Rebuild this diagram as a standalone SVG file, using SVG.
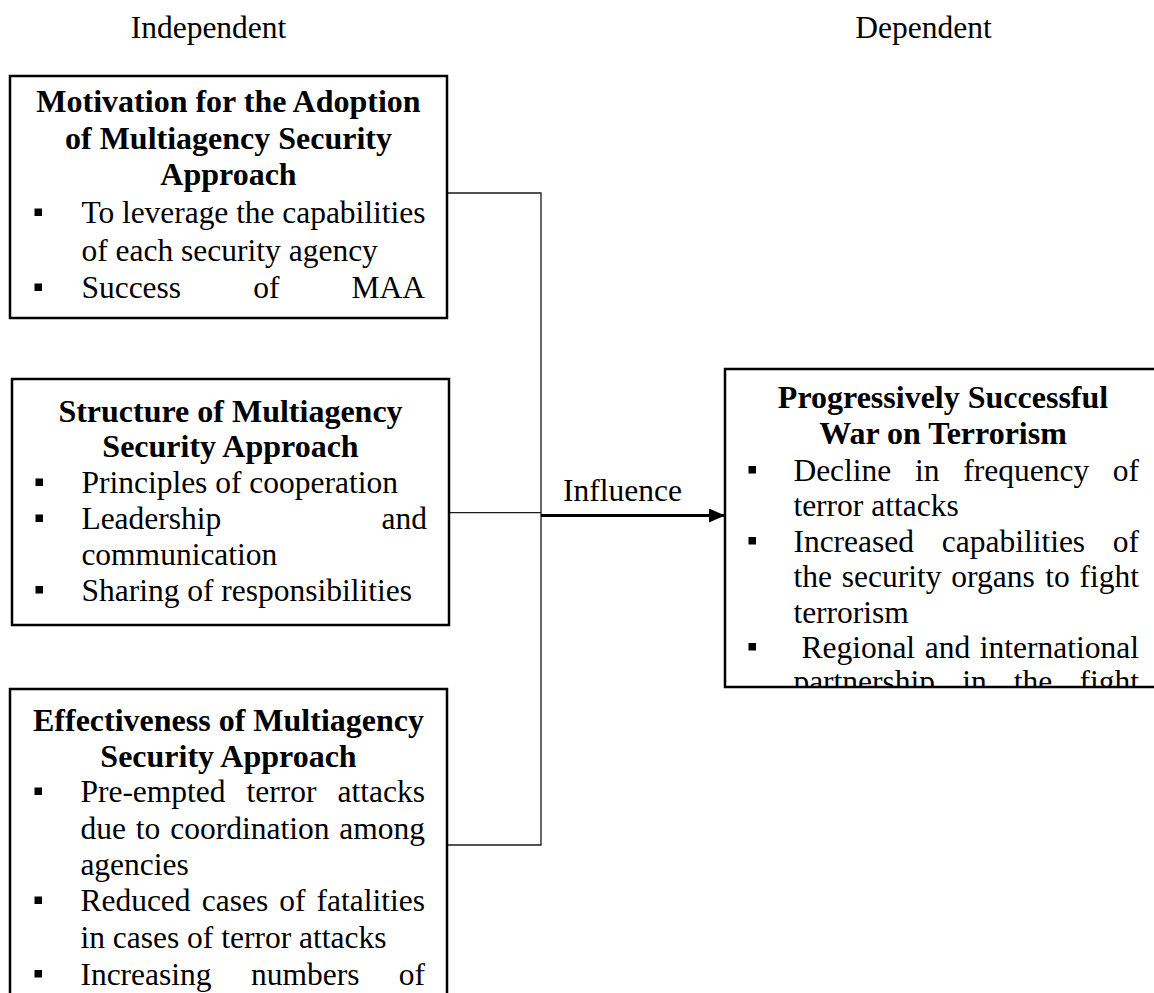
<svg xmlns="http://www.w3.org/2000/svg" width="1154" height="993" viewBox="0 0 1154 993">
  <defs>
    <style>
      .t { font-family: "Liberation Serif", "Times New Roman", serif; font-size: 31.5px; fill: #000; }
      .h { font-family: "Liberation Serif", "Times New Roman", serif; font-size: 32px; font-weight: bold; fill: #000; text-anchor: middle; }
      .e { text-anchor: end; }
      .box { fill: #fff; stroke: #000; stroke-width: 2.5; }
      .link { fill: none; stroke: #1a1a1a; stroke-width: 1.3; }
      .main { fill: none; stroke: #000; stroke-width: 3; }
      .bul { fill: #000; }
    </style>
    <marker id="arrow" viewBox="0 0 16 14" refX="16" refY="7" markerWidth="16" markerHeight="14" markerUnits="userSpaceOnUse" orient="auto">
      <path d="M0,0 L16,7 L0,14 Z" fill="#000"/>
    </marker>
    <clipPath id="clipOutcome">
      <rect x="725" y="369" width="440" height="318"/>
    </clipPath>
  </defs>

  <rect width="1154" height="993" fill="#fff"/>

  <!-- column headings -->
  <text class="t" x="208.5" y="37.5" text-anchor="middle">Independent</text>
  <text class="t" x="923.5" y="37.5" text-anchor="middle">Dependent</text>

  <!-- connectors -->
  <g id="connectors">
    <path class="link" d="M447,193 H541 V845 H447"/>
    <path class="link" d="M449,512.7 H541"/>
    <path class="main" d="M541,515.5 H725" marker-end="url(#arrow)"/>
    <text class="t" x="563" y="501">Influence</text>
  </g>

  <!-- independent variable 1 -->
  <g id="motivation">
    <rect class="box" x="10" y="76" width="437" height="242"/>
    <text class="h" x="228.5" y="112">Motivation for the Adoption</text>
    <text class="h" x="228.5" y="149">of Multiagency Security</text>
    <text class="h" x="228.5" y="185">Approach</text>
    <rect class="bul" x="34.5" y="208.5" width="7.5" height="7.5"/>
    <text class="t" x="81.4" y="223" textLength="344" lengthAdjust="spacing">To leverage the capabilities</text>
    <text class="t" x="81.4" y="260.5">of each security agency</text>
    <rect class="bul" x="34.5" y="283.5" width="7.5" height="7.5"/>
    <text class="t" x="81.4" y="298">Success</text>
    <text class="t" x="253.2" y="298">of</text>
    <text class="t e" x="425" y="298">MAA</text>
  </g>

  <!-- independent variable 2 -->
  <g id="structure">
    <rect class="box" x="12" y="379" width="437" height="246"/>
    <text class="h" x="230.5" y="421.5">Structure of Multiagency</text>
    <text class="h" x="230.5" y="457">Security Approach</text>
    <rect class="bul" x="35.5" y="478.5" width="7.5" height="7.5"/>
    <text class="t" x="81.4" y="493">Principles of cooperation</text>
    <rect class="bul" x="35.5" y="514.5" width="7.5" height="7.5"/>
    <text class="t" x="81.4" y="529">Leadership</text>
    <text class="t e" x="427" y="529">and</text>
    <text class="t" x="81.4" y="564.5">communication</text>
    <rect class="bul" x="35.5" y="586" width="7.5" height="7.5"/>
    <text class="t" x="81.4" y="600.5">Sharing of responsibilities</text>
  </g>

  <!-- independent variable 3 -->
  <g id="effectiveness">
    <rect class="box" x="10" y="689" width="437" height="400"/>
    <text class="h" x="228.5" y="731">Effectiveness of Multiagency</text>
    <text class="h" x="228.5" y="767">Security Approach</text>
    <rect class="bul" x="34.5" y="787.5" width="7.5" height="7.5"/>
    <text class="t" x="80.4" y="802">Pre-empted</text>
    <text class="t" x="246.5" y="802">terror</text>
    <text class="t e" x="425" y="802">attacks</text>
    <text class="t" x="80.4" y="838.5">due</text>
    <text class="t" x="135.8" y="838.5">to</text>
    <text class="t" x="170.2" y="838.5">coordination</text>
    <text class="t e" x="425" y="838.5">among</text>
    <text class="t" x="80.4" y="874.5">agencies</text>
    <rect class="bul" x="34.5" y="896.5" width="7.5" height="7.5"/>
    <text class="t" x="80.4" y="911">Reduced</text>
    <text class="t" x="201.7" y="911">cases</text>
    <text class="t" x="279.2" y="911">of</text>
    <text class="t e" x="425" y="911">fatalities</text>
    <text class="t" x="80.4" y="947.5">in cases of terror attacks</text>
    <rect class="bul" x="34.5" y="970" width="7.5" height="7.5"/>
    <text class="t" x="80.4" y="984.5">Increasing</text>
    <text class="t" x="251" y="984.5">numbers</text>
    <text class="t e" x="425" y="984.5">of</text>
  </g>

  <!-- dependent variable -->
  <g id="outcome">
    <rect class="box" x="725" y="369" width="440" height="318"/>
    <g clip-path="url(#clipOutcome)">
      <text class="h" x="943" y="408">Progressively Successful</text>
      <text class="h" x="943" y="444">War on Terrorism</text>
      <rect class="bul" x="748.5" y="466" width="7.5" height="7.5"/>
      <text class="t" x="793.4" y="480.5">Decline</text>
      <text class="t" x="915.1" y="480.5">in</text>
      <text class="t" x="963.3" y="480.5">frequency</text>
      <text class="t e" x="1139" y="480.5">of</text>
      <text class="t" x="793.4" y="516">terror attacks</text>
      <rect class="bul" x="748.5" y="537" width="7.5" height="7.5"/>
      <text class="t" x="793.4" y="551.5">Increased</text>
      <text class="t" x="941.7" y="551.5">capabilities</text>
      <text class="t e" x="1139" y="551.5">of</text>
      <text class="t" x="793.4" y="587">the</text>
      <text class="t" x="841.8" y="587">security</text>
      <text class="t" x="951.3" y="587">organs</text>
      <text class="t" x="1045.2" y="587">to</text>
      <text class="t e" x="1139" y="587">fight</text>
      <text class="t" x="793.4" y="622.5">terrorism</text>
      <rect class="bul" x="748.5" y="643" width="7.5" height="7.5"/>
      <text class="t" x="801.4" y="657.5">Regional</text>
      <text class="t" x="924.7" y="657.5">and</text>
      <text class="t e" x="1139" y="657.5">international</text>
      <text class="t" x="793.4" y="692">partnership</text>
      <text class="t" x="962.2" y="692">in</text>
      <text class="t" x="1013.8" y="692">the</text>
      <text class="t e" x="1139" y="692">fight</text>
    </g>
  </g>
</svg>
